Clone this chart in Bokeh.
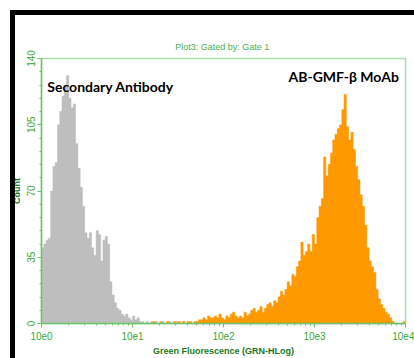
import numpy as np
from bokeh.plotting import figure
from bokeh.models import Range1d, LogTicker, SingleIntervalTicker, Label, InlineStyleSheet
from bokeh.embed import file_html
from bokeh.resources import INLINE

# ---- data (histogram counts) ----
bin_step = 0.025  # decades per channel
gray_start = 0.0  # log10 of first gray channel edge
gray_counts = [40, 42, 44, 45, 70, 83, 85, 105, 112, 120, 126, 131, 119, 114, 116, 95,
               82, 72, 62, 48, 45, 48, 40, 36, 49, 47, 33, 44, 46, 42, 22, 15,
               11, 8, 7, 5, 4, 5, 3, 2, 4, 2, 3, 1, 1, 0, 1, 0,
               1, 0, 1, 0, 0, 1, 0, 0, 1, 0, 0, 1, 0, 0, 1, 0]
orange_start = 1.2
orange_counts = [0, 1, 0, 0, 1, 0, 0, 1, 0, 0, 1, 0, 1, 0, 1, 0,
                 1, 1, 0, 1, 1, 2, 2, 3, 2, 4, 3, 3, 4, 3, 5, 3,
                 2, 4, 3, 5, 6, 4, 3, 4, 3, 6, 4, 5, 7, 8, 6, 7,
                 9, 6, 8, 10, 11, 9, 12, 11, 14, 17, 15, 18, 22, 20, 26, 25,
                 30, 33, 43, 36, 38, 42, 38, 47, 42, 56, 62, 66, 88, 78, 84, 90,
                 97, 100, 103, 105, 113, 121, 104, 97, 101, 92, 83, 76, 68, 62, 52, 40,
                 33, 30, 27, 18, 13, 10, 8, 6, 5, 3, 1, 0, 0, 0, 0, 1]
x_tick_values = [1, 10, 100, 1000, 10000]
x_tick_labels = ["10e0", "10e1", "10e2", "10e3", "10e4"]
title_text = "Plot3:  Gated by: Gate 1"
x_title = "Green Fluorescence (GRN-HLog)"
y_title = "Count"
label_gray = "Secondary Antibody"
label_orange = "AB-GMF-\u03b2 MoAb"


def step_outline(start, counts):
    edges = [10 ** (start + i * bin_step) for i in range(len(counts) + 1)]
    xs, ys = [edges[0]], [0]
    for i, c in enumerate(counts):
        xs += [edges[i], edges[i + 1]]
        ys += [c, c]
    xs.append(edges[-1]); ys.append(0)
    return xs, ys


GREEN_LINE = "#6cc36c"
GREEN_TXT = "#3aa83a"
GREEN_DARK = "#1c7a1c"

p = figure(width=414, height=358, x_axis_type="log", output_backend="svg",
           toolbar_location=None, x_range=Range1d(1, 10000), y_range=Range1d(0, 140),
           min_border_left=41, min_border_right=9, min_border_top=58, min_border_bottom=35)
p.background_fill_color = "white"
p.border_fill_color = "white"
p.grid.visible = False
p.outline_line_color = "#a6dca6"
p.outline_line_width = 1.5
# black outer frame: only its left and top edges fall inside the picture
p.stylesheets = [InlineStyleSheet(css=(
    ":host::after { content: ''; position: absolute; left: 10px; top: 10px; "
    "right: 0px; bottom: 0px; "
    "border-left: 5px solid #000; border-top: 5px solid #000; "
    "z-index: 10; pointer-events: none; }"))]

gx, gy = step_outline(gray_start, gray_counts)
p.patch(gx, gy, fill_color="#bebebe", line_color="#bebebe", line_width=0.5)
ox, oy = step_outline(orange_start, orange_counts)
p.patch(ox, oy, fill_color="#ff9900", line_color="#ff9900", line_width=0.5)

# axes
p.xaxis.ticker = LogTicker(desired_num_ticks=5, num_minor_ticks=10)
p.xaxis.major_label_overrides = {v: l for v, l in zip(x_tick_values, x_tick_labels)}
p.yaxis.ticker = SingleIntervalTicker(interval=35, num_minor_ticks=5)
p.yaxis.major_label_orientation = "vertical"
for ax in (p.xaxis, p.yaxis):
    ax.axis_line_color = GREEN_LINE
    ax.axis_line_width = 1.5
    ax.major_tick_line_color = GREEN_LINE
    ax.minor_tick_line_color = GREEN_LINE
    ax.major_tick_out = 4
    ax.major_tick_in = 0
    ax.minor_tick_out = 2
    ax.minor_tick_in = 0
    ax.major_label_text_color = GREEN_TXT
    ax.major_label_text_font = "Liberation Sans"
    ax.major_label_text_font_size = "10px"
    ax.axis_label_text_color = GREEN_DARK
    ax.axis_label_text_font = "Liberation Sans"
    ax.axis_label_text_font_style = "bold"
    ax.axis_label_text_font_size = "9px"
p.xaxis.axis_label = x_title
p.yaxis.axis_label = y_title
p.xaxis.major_label_standoff = 4
p.xaxis.axis_label_standoff = 3
p.yaxis.major_label_standoff = 3
p.yaxis.axis_label_standoff = 2

p.title.text = title_text
p.title.align = "center"
p.title.text_color = "#4caf50"
p.title.text_font = "Liberation Sans"
p.title.text_font_style = "normal"
p.title.text_font_size = "9px"
p.title.standoff = 14

p.add_layout(Label(x=1.16, y=125, text=label_gray, text_font="Lato", text_font_style="bold",
                   text_font_size="14px", text_color="black", text_baseline="alphabetic"))
p.add_layout(Label(x=518, y=130.5, text=label_orange, text_font="Lato", text_font_style="bold",
                   text_font_size="14px", text_color="black", text_baseline="alphabetic"))

open("out.html", "w").write(file_html(p, INLINE))
